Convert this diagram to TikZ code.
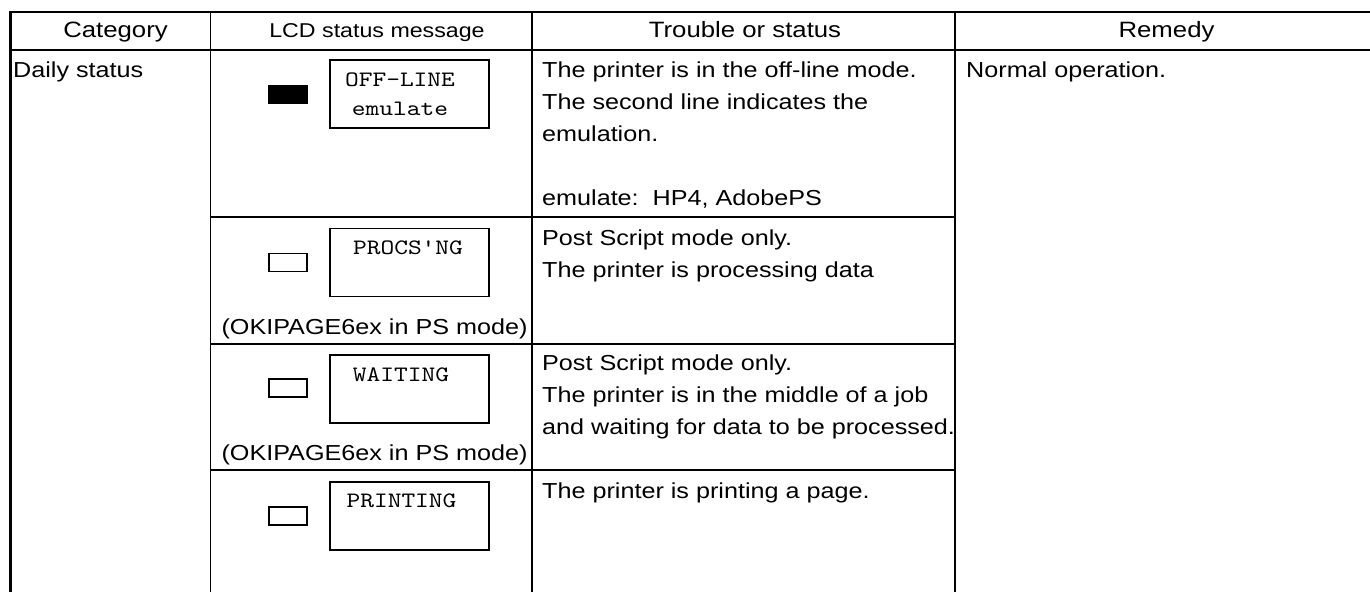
\documentclass[tikz,border=0pt]{standalone}
\usepackage{fontspec}
\newfontfamily\tablefont[FakeStretch=1.16]{Liberation Sans}
\newfontfamily\lcdfont[FakeStretch=1.19]{lmmono10-regular.otf}
\begin{document}
\begin{tikzpicture}[x=1pt,y=-1pt,
  rule/.style={line width=1.3pt},
  txt/.style={anchor=base west,inner sep=0pt,font=\tablefont\fontsize{21.7}{32}\selectfont},
  ctxt/.style={anchor=base,inner sep=0pt,font=\tablefont\fontsize{21.7}{32}\selectfont},
  hdr/.style={anchor=base,inner sep=0pt,font=\tablefont\fontsize{22.2}{32}\selectfont},
  hdrsmall/.style={anchor=base,inner sep=0pt,font=\tablefont\fontsize{20}{28}\selectfont},
  lcdtxt/.style={anchor=base,inner sep=0pt,font=\lcdfont\fontsize{22}{28}\selectfont},
  lcdbox/.style={draw,line width=1.3pt,minimum width=159pt,minimum height=68pt,inner sep=0pt},
  led/.style={draw,line width=1.3pt,minimum width=38pt,minimum height=18pt,inner sep=0pt},
  ledon/.style={led,fill=black}]
\useasboundingbox (0,0) rectangle (1370,592);
% frame and grid
\draw[line width=2.8pt] (9,12) -- (1370,12);
\draw[line width=3pt] (10.5,11) -- (10.5,592);
\draw[line width=2pt] (10,50) -- (1370,50);
\draw[rule] (210.5,12) -- (210.5,592);
\draw[rule] (532,12) -- (532,592);
\draw[rule] (955,12) -- (955,592);
\draw[rule] (210.5,217) -- (955,217);
\draw[rule] (210.5,344) -- (955,344);
\draw[rule] (210.5,470) -- (955,470);
% header
\node[hdr] (hcat) at (115.5,37.5) {Category};
\node[hdrsmall] (hlcd) at (377,37) {LCD status message};
\node[hdr] (htrb) at (745,37.5) {Trouble or status};
\node[hdr] (hrem) at (1166.5,37.5) {Remedy};
% category / remedy
\node[txt] (cat) at (13,77) {Daily status};
\node[txt] (rem) at (966,77) {Normal operation.};
% row 1
\node[ledon] (led1) at (288,94.5) {};
\node[lcdbox] (box1) at (409.5,94) {};
\node[lcdtxt] (l1a) at (400,86) {OFF-LINE};
\node[lcdtxt] (l1b) at (400,115.5) {emulate};
\node[txt] (t1a) at (542,77) {The printer is in the off-line mode.};
\node[txt] (t1b) at (542,109) {The second line indicates the};
\node[txt] (t1c) at (542,141) {emulation.};
\node[txt] (t1d) at (542,205) {emulate:\ \ HP4, AdobePS};
% row 2
\node[led] (led2) at (288,262.5) {};
\node[lcdbox] (box2) at (409.5,262.5) {};
\node[lcdtxt] (l2a) at (408,254) {PROCS'NG};
\node[ctxt] (m2) at (374.5,334) {(OKIPAGE6ex in PS mode)};
\node[txt] (t2a) at (542,245) {Post Script mode only.};
\node[txt] (t2b) at (542,277) {The printer is processing data};
% row 3
\node[led] (led3) at (288,388) {};
\node[lcdbox] (box3) at (409.5,389) {};
\node[lcdtxt] (l3a) at (401,381) {WAITING};
\node[ctxt] (m3) at (374.5,460) {(OKIPAGE6ex in PS mode)};
\node[txt] (t3a) at (542,370) {Post Script mode only.};
\node[txt] (t3b) at (542,402) {The printer is in the middle of a job};
\node[txt] (t3c) at (542,434) {and waiting for data to be processed.};
% row 4
\node[led] (led4) at (288,516) {};
\node[lcdbox] (box4) at (409.5,516) {};
\node[lcdtxt] (l4a) at (401.5,507) {PRINTING};
\node[txt] (t4a) at (542,498) {The printer is printing a page.};
\end{tikzpicture}
\end{document}
